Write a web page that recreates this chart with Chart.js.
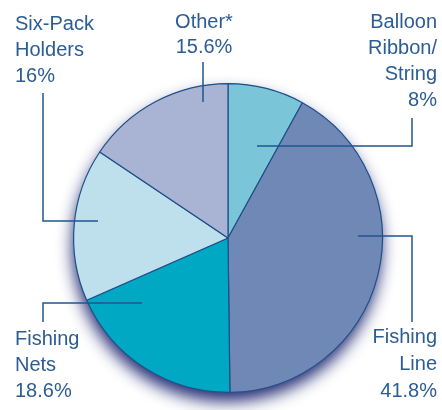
<!DOCTYPE html>
<html>
<head>
<meta charset="utf-8">
<script src="https://cdn.jsdelivr.net/npm/chart.js@4"></script>
<style>
  html, body { margin: 0; padding: 0; background: #ffffff; }
  #wrap { width: 442px; height: 410px; position: relative; }
</style>
</head>
<body>
<div id="wrap"><canvas id="c" width="442" height="410"></canvas></div>
<script>
// ---- Data ----
const categories = ['Balloon Ribbon/String', 'Fishing Line', 'Fishing Nets', 'Six-Pack Holders', 'Other*'];
const values = [8, 41.8, 18.6, 16, 15.6];
const labelLines = [
  ['Balloon', 'Ribbon/', 'String'],
  ['Fishing', 'Line'],
  ['Fishing', 'Nets'],
  ['Six-Pack', 'Holders'],
  ['Other*']
];
const colors = ['#7ac5d8', '#6f88b6', '#00a8c3', '#bde0ec', '#a9b4d5'];

// ---- Layout of annotations (style/position only) ----
const textColor = '#2b5c94';
const lineColor = '#1f5590';
const annot = [
  { align: 'right', x: 437, y0: 28, lh: 26, leader: [[412, 118], [412, 146], [257, 146]] },
  { align: 'right', x: 437, y0: 343, lh: 27, leader: [[358, 236], [412, 236], [412, 322]] },
  { align: 'left',  x: 15,  y0: 345, lh: 26, leader: [[142, 303], [43, 303], [43, 322]] },
  { align: 'left',  x: 15,  y0: 30,  lh: 26, leader: [[43, 93], [43, 221], [98, 221]] },
  { align: 'center', x: 204, y0: 28, lh: 25, leader: [[203, 62], [203, 102]] }
];

const shadowPlugin = {
  id: 'pieShadow',
  beforeDatasetsDraw(chart) {
    const arc = chart.getDatasetMeta(0).data[0];
    if (!arc) return;
    const ctx = chart.ctx;
    ctx.save();
    ctx.shadowColor = 'rgba(25, 35, 110, 0.95)';
    ctx.shadowBlur = 16;
    ctx.shadowOffsetX = -1;
    ctx.shadowOffsetY = 9;
    ctx.fillStyle = '#6f88b6';
    ctx.beginPath();
    ctx.arc(arc.x, arc.y, arc.outerRadius, 0, Math.PI * 2);
    ctx.fill();
    ctx.restore();
  }
};

const labelPlugin = {
  id: 'leaderLabels',
  afterDatasetsDraw(chart) {
    const ctx = chart.ctx;
    ctx.save();
    ctx.font = '20px "Liberation Sans", Arial, sans-serif';
    ctx.fillStyle = textColor;
    ctx.textBaseline = 'alphabetic';
    annot.forEach((a, i) => {
      const lines = labelLines[i].concat([values[i] + '%']);
      ctx.textAlign = a.align;
      lines.forEach((t, j) => ctx.fillText(t, a.x, a.y0 + j * a.lh));
      ctx.strokeStyle = lineColor;
      ctx.lineWidth = 1.5;
      ctx.beginPath();
      a.leader.forEach((p, k) => k === 0 ? ctx.moveTo(p[0], p[1]) : ctx.lineTo(p[0], p[1]));
      ctx.stroke();
    });
    ctx.restore();
  }
};

new Chart(document.getElementById('c'), {
  type: 'pie',
  data: {
    labels: categories,
    datasets: [{
      data: values,
      backgroundColor: colors,
      borderColor: '#1f4f88',
      borderWidth: 1.2
    }]
  },
  options: {
    responsive: false,
    animation: false,
    devicePixelRatio: 1,
    layout: { padding: { left: 73, right: 59, top: 83, bottom: 17 } },
    plugins: {
      legend: { display: false },
      tooltip: { enabled: false }
    }
  },
  plugins: [shadowPlugin, labelPlugin]
});
</script>
</body>
</html>
